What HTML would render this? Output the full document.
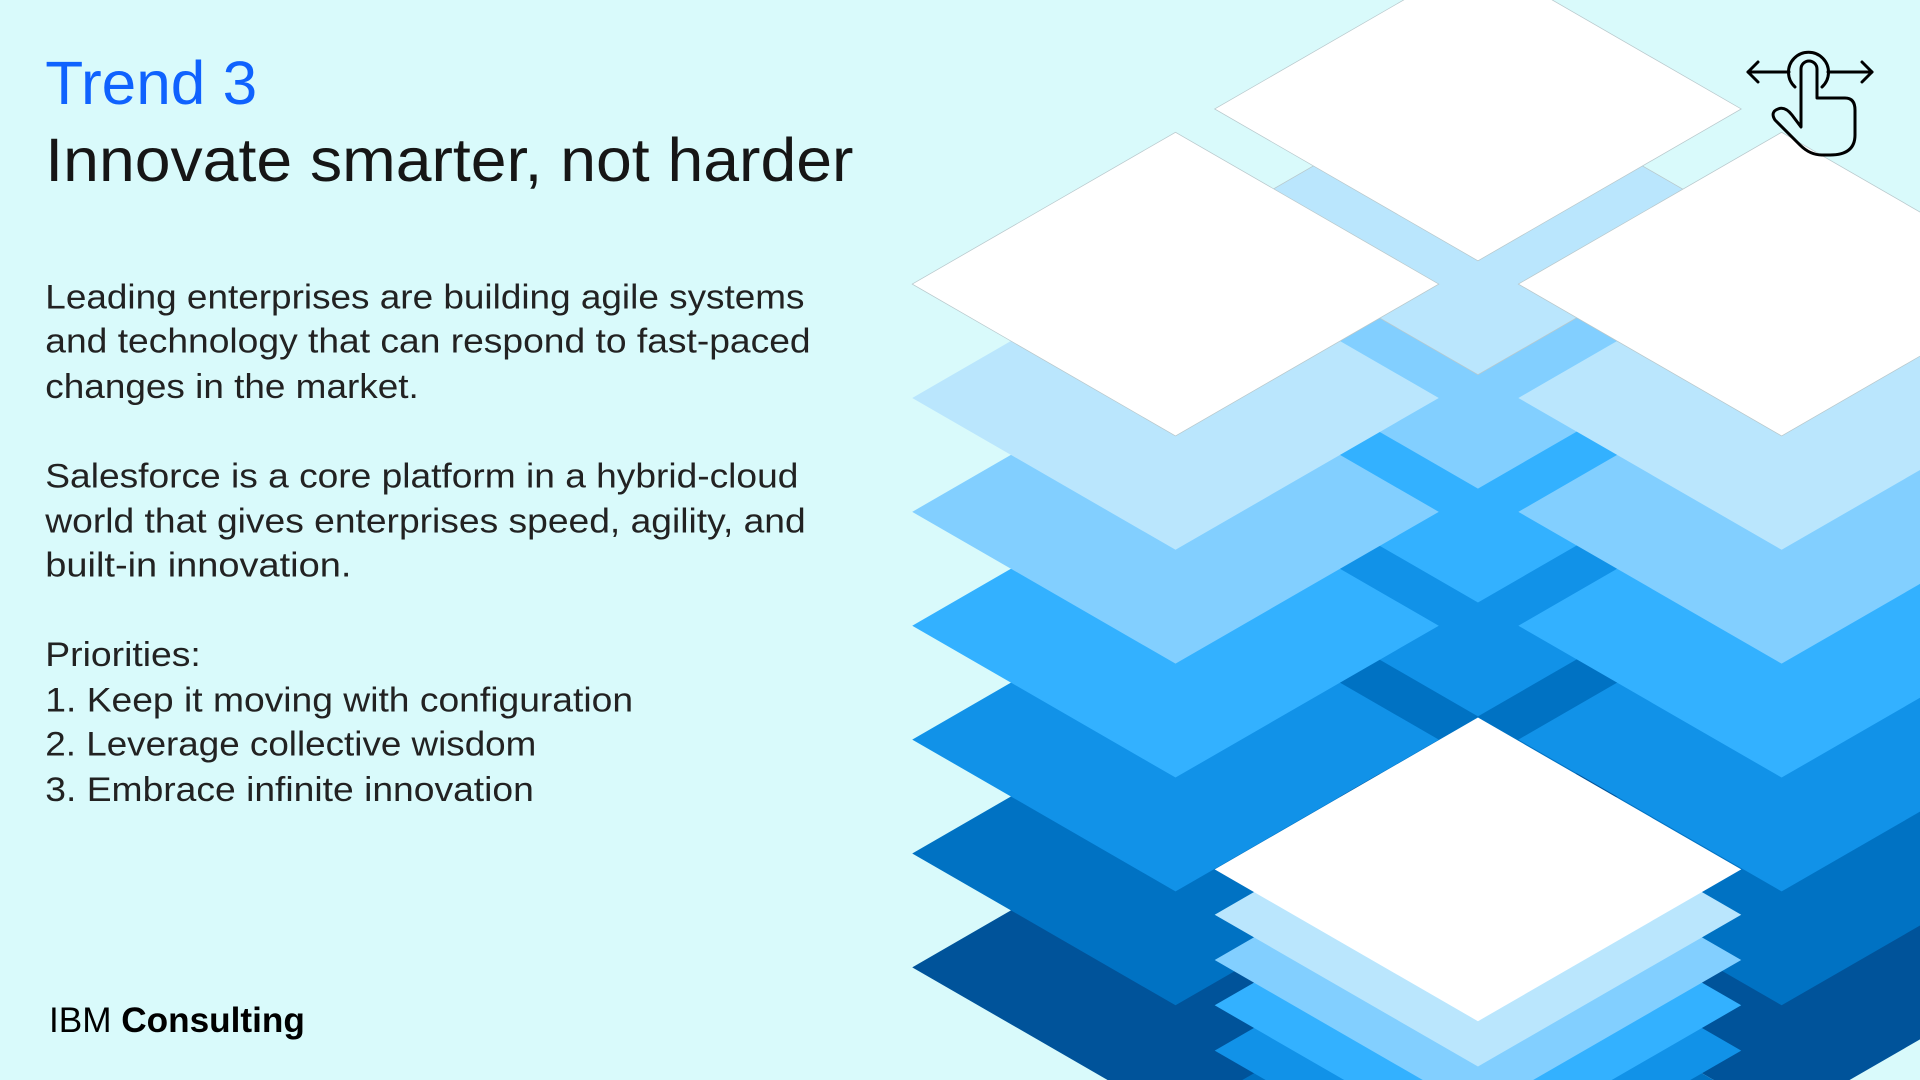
<!DOCTYPE html>
<html><head><meta charset="utf-8"><style>
html,body{margin:0;padding:0;background:#d9fafb;width:1920px;height:1080px;overflow:hidden;}
svg{display:block;overflow:hidden;}
text{font-family:"Liberation Sans",sans-serif;}
</style></head><body>
<svg width="1920" height="1080" viewBox="0 0 1920 1080" xmlns="http://www.w3.org/2000/svg">
<defs>
  <clipPath id="c"><rect x="0" y="0" width="1568" height="882"/></clipPath>
  <polygon id="d" points="-215,0 0,-124 215,0 0,124"/>
</defs>
<rect width="1920" height="1080" fill="#d9fafb"/>
<g transform="scale(1.22449)">
 <g clip-path="url(#c)">
  <g>
    <use href="#d" x="1207" y="647" fill="#00539a"/>
    <use href="#d" x="1207" y="554" fill="#0072c3"/>
    <use href="#d" x="1207" y="461" fill="#1192e8"/>
    <use href="#d" x="1207" y="368" fill="#33b1ff"/>
    <use href="#d" x="1207" y="275" fill="#82cfff"/>
    <use href="#d" x="1207" y="182" fill="#bae6fd" stroke="#b8c8cc" stroke-width="0.6"/>
    <use href="#d" x="1207" y="89" fill="#ffffff" stroke="#b8c8cc" stroke-width="0.6"/>
  </g>
  <g>
    <use href="#d" x="960" y="790" fill="#00539a"/>
    <use href="#d" x="960" y="697" fill="#0072c3"/>
    <use href="#d" x="960" y="604" fill="#1192e8"/>
    <use href="#d" x="960" y="511" fill="#33b1ff"/>
    <use href="#d" x="960" y="418" fill="#82cfff"/>
    <use href="#d" x="960" y="325" fill="#bae6fd"/>
    <use href="#d" x="960" y="232" fill="#ffffff" stroke="#b8c8cc" stroke-width="0.6"/>
  </g>
  <g>
    <use href="#d" x="1455" y="790" fill="#00539a"/>
    <use href="#d" x="1455" y="697" fill="#0072c3"/>
    <use href="#d" x="1455" y="604" fill="#1192e8"/>
    <use href="#d" x="1455" y="511" fill="#33b1ff"/>
    <use href="#d" x="1455" y="418" fill="#82cfff"/>
    <use href="#d" x="1455" y="325" fill="#bae6fd"/>
    <use href="#d" x="1455" y="232" fill="#ffffff" stroke="#b8c8cc" stroke-width="0.6"/>
  </g>
  <g>
    <use href="#d" x="1207" y="895" fill="#0072c3"/>
    <use href="#d" x="1207" y="858" fill="#1192e8"/>
    <use href="#d" x="1207" y="821" fill="#33b1ff"/>
    <use href="#d" x="1207" y="784" fill="#82cfff"/>
    <use href="#d" x="1207" y="747" fill="#bae6fd"/>
    <use href="#d" x="1207" y="710" fill="#ffffff"/>
  </g>
 </g>

  <text x="37" y="85" font-size="50" fill="#0f62fe" textLength="173" lengthAdjust="spacingAndGlyphs">Trend 3</text>
  <text x="37" y="148" font-size="50" fill="#161616" textLength="660" lengthAdjust="spacingAndGlyphs">Innovate smarter, not harder</text>

  <g font-size="28" fill="#222">
    <text x="37" y="252" textLength="620" lengthAdjust="spacingAndGlyphs">Leading enterprises are building agile systems</text>
    <text x="37" y="288" textLength="625" lengthAdjust="spacingAndGlyphs">and technology that can respond to fast-paced</text>
    <text x="37" y="325" textLength="305" lengthAdjust="spacingAndGlyphs">changes in the market.</text>
    <text x="37" y="398" textLength="615" lengthAdjust="spacingAndGlyphs">Salesforce is a core platform in a hybrid-cloud</text>
    <text x="37" y="435" textLength="621" lengthAdjust="spacingAndGlyphs">world that gives enterprises speed, agility, and</text>
    <text x="37" y="471" textLength="250" lengthAdjust="spacingAndGlyphs">built-in innovation.</text>
    <text x="37" y="544" textLength="127" lengthAdjust="spacingAndGlyphs">Priorities:</text>
    <text x="37" y="581" textLength="480" lengthAdjust="spacingAndGlyphs">1. Keep it moving with configuration</text>
    <text x="37" y="617" textLength="401" lengthAdjust="spacingAndGlyphs">2. Leverage collective wisdom</text>
    <text x="37" y="654" textLength="399" lengthAdjust="spacingAndGlyphs">3. Embrace infinite innovation</text>
  </g>

  <text x="40" y="843" font-size="29" fill="#000" textLength="209" lengthAdjust="spacingAndGlyphs">IBM <tspan font-weight="bold">Consulting</tspan></text>
</g>

<g fill="none" stroke="#000" stroke-width="3" stroke-linecap="round" stroke-linejoin="round">
  <line x1="1748" y1="72" x2="1789" y2="72"/>
  <line x1="1828" y1="72" x2="1872" y2="72"/>
  <polyline points="1758,62 1748,72 1758,82"/>
  <polyline points="1862,62 1872,72 1862,82"/>
  <path d="M1795,87 A20,20 0 1 1 1822,87"/>
  <path d="M1801,127 L1801,69 A8,8 0 0 1 1817,69 L1817,98 L1845,98 Q1855,98 1855,110 L1855,135 Q1855,155 1830,155 L1822,155 Q1810,155 1800,145 L1775,120 Q1770,112 1778,109 Q1785,106 1792,115 Z"/>
</g>
</svg>
</body></html>
